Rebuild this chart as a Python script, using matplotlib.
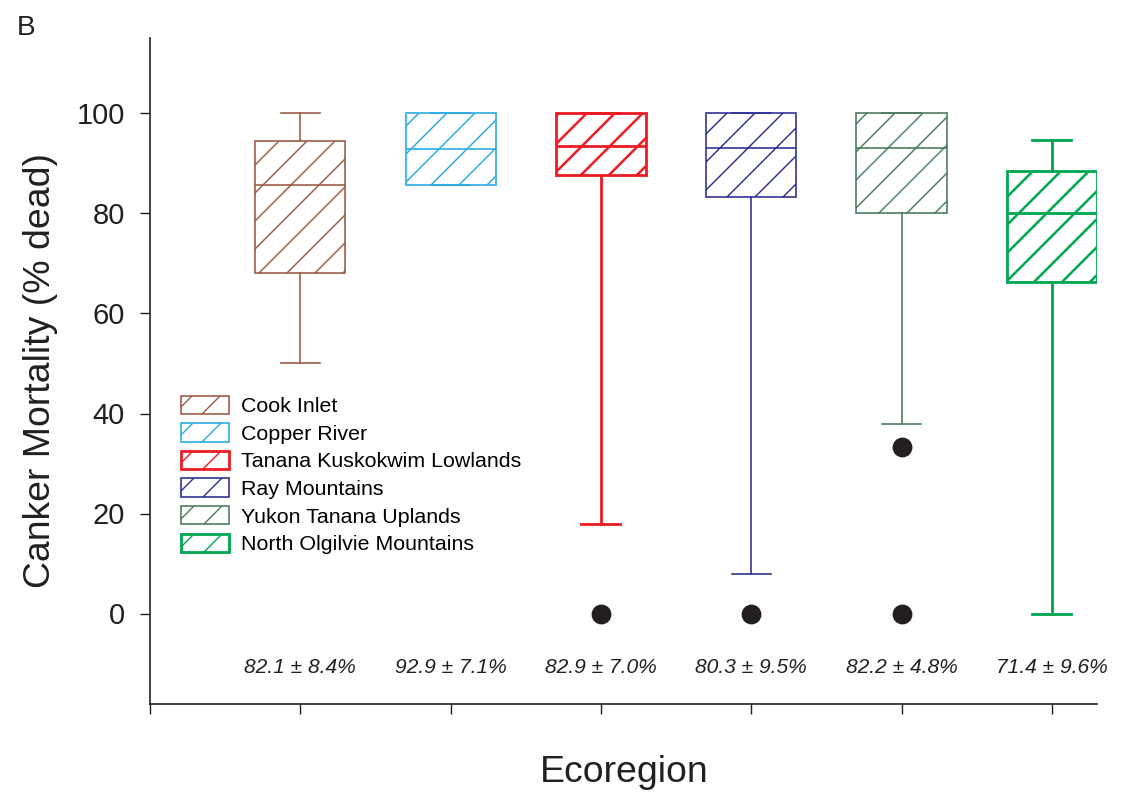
import matplotlib
matplotlib.use("Agg")
import matplotlib.pyplot as plt
from matplotlib.patches import Patch

plt.rcParams["font.family"] = ["Liberation Sans", "DejaVu Sans"]
plt.rcParams["hatch.linewidth"] = 0.6

# box statistics per ecoregion (% dead)
regions = ["Cook Inlet", "Copper River", "Tanana Kuskokwim Lowlands",
           "Ray Mountains", "Yukon Tanana Uplands", "North Olgilvie Mountains"]
whisk_lo = [50, 85.7, 18, 8, 38, 0]
q1 = [68, 85.7, 87.7, 83.3, 80, 66.3]
med = [85.7, 92.9, 93.5, 93.1, 93, 80]
q3 = [94.5, 100, 100, 100, 100, 88.5]
whisk_hi = [100, 100, 100, 100, 100, 94.7]
outliers = [[], [], [0], [0], [33.3, 0], []]
means = ["82.1 ± 8.4%", "92.9 ± 7.1%", "82.9 ± 7.0%",
         "80.3 ± 9.5%", "82.2 ± 4.8%", "71.4 ± 9.6%"]

colors = ["#9b5a44", "#29abe2", "#ed1c24", "#2e3192", "#4b7b5e", "#00a651"]
lws = [0.7, 0.7, 1.2, 0.7, 0.7, 1.2]

dpi = 168
fig = plt.figure(figsize=(1130 / dpi, 793 / dpi), dpi=dpi)
ax = fig.add_axes([150 / 1130, 1 - 704 / 793, (1097 - 150) / 1130, (704 - 38) / 793])

for i in range(len(regions)):
    st = dict(whislo=whisk_lo[i], q1=q1[i], med=med[i], q3=q3[i],
              whishi=whisk_hi[i], fliers=outliers[i], label=regions[i])
    c = colors[i]
    lw = lws[i]
    art = ax.bxp([st], positions=[i + 1], widths=0.6, capwidths=0.26,
                 patch_artist=True, showfliers=True,
                 boxprops=dict(facecolor="white", edgecolor=c, linewidth=lw, hatch="//"),
                 medianprops=dict(color=c, linewidth=lw),
                 whiskerprops=dict(color=c, linewidth=lw),
                 capprops=dict(color=c, linewidth=lw),
                 flierprops=dict(marker="o", markersize=7.5, markerfacecolor="#231f20",
                                 markeredgecolor="#231f20", linestyle="none"))
    for b in art["boxes"]:
        if hasattr(b, "set_hatch_linewidth"):
            b.set_hatch_linewidth(lw * 0.9)
    ax.text(i + 1, -10.8, means[i], ha="center", va="center",
            fontsize=9, style="italic", color="#231f20")

ax.set_xlim(0, 6.3)
ax.set_ylim(-18.1, 115.1)
ax.set_xticks(range(0, 7))
ax.set_xticklabels([])
ax.set_yticks([0, 20, 40, 60, 80, 100])
ax.tick_params(axis="both", direction="out", length=4.3, width=0.6, color="#231f20",
               labelsize=12.5, labelcolor="#231f20", pad=6.5)
for s in ["top", "right"]:
    ax.spines[s].set_visible(False)
for s in ["left", "bottom"]:
    ax.spines[s].set_linewidth(0.7)
    ax.spines[s].set_color("#231f20")

ax.set_ylabel("Canker Mortality (% dead)", fontsize=16, color="#231f20", labelpad=8)
fig.text(624 / 1130, 1 - 772 / 793, "Ecoregion", fontsize=16, color="#231f20",
         ha="center", va="center")

handles = []
for i in range(len(regions)):
    h = Patch(facecolor="white", edgecolor=colors[i], hatch="//", linewidth=lws[i],
              label=regions[i])
    handles.append(h)
ax.legend(handles=handles, loc="upper left", bbox_to_anchor=(0.033, 0.463),
          frameon=False, fontsize=9.15, handlelength=2.25, handleheight=0.95,
          handletextpad=0.55, labelspacing=0.33, borderaxespad=0, borderpad=0)

fig.text(17 / 1130, 1 - 35 / 793, "B", fontsize=12, color="#231f20")

fig.savefig("out.png", dpi=dpi)
